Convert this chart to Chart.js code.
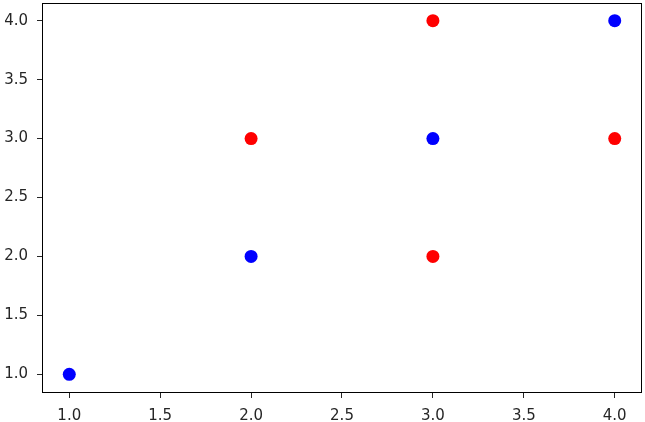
<!DOCTYPE html>
<html>
<head>
<meta charset="utf-8">
<script src="https://cdn.jsdelivr.net/npm/chart.js@4/dist/chart.umd.min.js"></script>
<style>
  html, body { margin: 0; padding: 0; background: #fff; }
  #box { width: 645px; height: 422px; }
</style>
</head>
<body>
<div id="box"><canvas id="scatterChart"></canvas></div>
<script>
// dados
const redX = [2, 3, 3, 4];
const redY = [3, 4, 2, 3];
const blueX = [1, 2, 3, 4];
const blueY = [1, 2, 3, 4];
const xTicks = [1.0, 1.5, 2.0, 2.5, 3.0, 3.5, 4.0];
const yTicks = [1.0, 1.5, 2.0, 2.5, 3.0, 3.5, 4.0];

const toPoints = (xs, ys) => xs.map((x, i) => ({ x: x, y: ys[i] }));

// moldura completa em volta da área do gráfico
const frame = {
    id: 'frame',
    afterDraw(chart) {
        const a = chart.chartArea;
        const c = chart.ctx;
        c.save();
        c.strokeStyle = '#000';
        c.lineWidth = 1;
        c.strokeRect(Math.round(a.left) + 0.5, Math.round(a.top) + 0.5,
            Math.round(a.right - a.left) - 1, Math.round(a.bottom - a.top));
        c.restore();
    }
};

const tickFont = { family: 'DejaVu Sans', size: 15 };

const ctx = document.getElementById('scatterChart').getContext('2d');

const config = {
    type: 'scatter',
    data: {
        datasets: [
            {
                label: 'red',
                data: toPoints(redX, redY),
                backgroundColor: '#ff0000',
                borderColor: '#ff0000',
                pointRadius: 6.5,
                pointHoverRadius: 6.5,
                borderWidth: 0
            },
            {
                label: 'blue',
                data: toPoints(blueX, blueY),
                backgroundColor: '#0000ff',
                borderColor: '#0000ff',
                pointRadius: 6.5,
                pointHoverRadius: 6.5,
                borderWidth: 0
            }
        ]
    },
    options: {
        responsive: true,
        maintainAspectRatio: false,
        animation: false,
        layout: { autoPadding: false, padding: { top: 3, right: 3, left: 0, bottom: 0 } },
        plugins: {
            legend: { display: false },
            tooltip: { enabled: false }
        },
        scales: {
            x: {
                type: 'linear',
                min: 0.85,
                max: 4.15,
                afterBuildTicks: s => { s.ticks = xTicks.map(v => ({ value: v })); },
                afterFit: s => { s.height = 30; s.paddingLeft = 0; s.paddingRight = 0; },
                ticks: {
                    color: '#262626',
                    font: tickFont,
                    padding: 9,
                    maxRotation: 0,
                    callback: v => Number(v).toFixed(1)
                },
                grid: { drawOnChartArea: false, tickLength: 6, color: '#262626' },
                border: { display: false }
            },
            y: {
                type: 'linear',
                min: 0.85,
                max: 4.15,
                afterBuildTicks: s => { s.ticks = yTicks.map(v => ({ value: v })); },
                afterFit: s => { s.width = 42; s.paddingTop = 0; s.paddingBottom = 0; },
                ticks: {
                    color: '#262626',
                    font: tickFont,
                    padding: 9,
                    callback: v => Number(v).toFixed(1)
                },
                grid: { drawOnChartArea: false, tickLength: 5, color: '#262626' },
                border: { display: false }
            }
        }
    },
    plugins: [frame]
};

const scatterChart = new Chart(ctx, config);
</script>
</body>
</html>
